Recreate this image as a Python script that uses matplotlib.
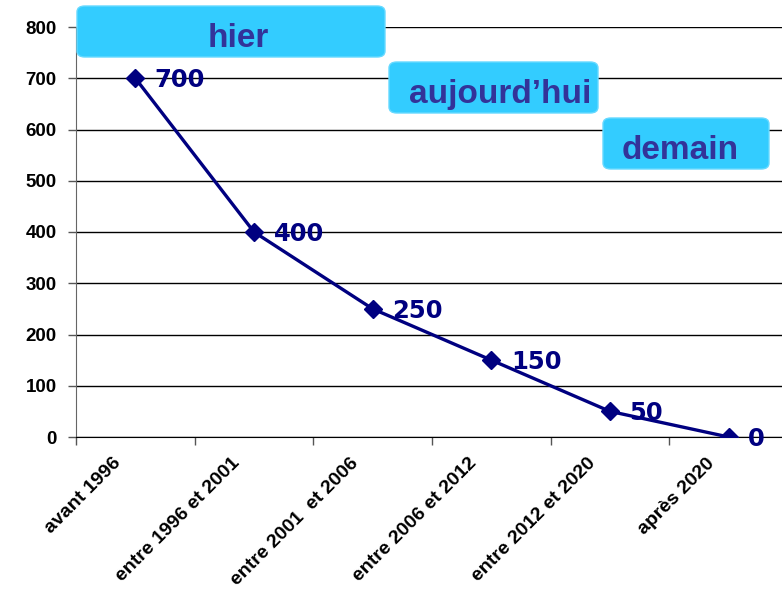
import matplotlib
matplotlib.use("Agg")
import matplotlib.pyplot as plt
from matplotlib.patches import FancyBboxPatch
from matplotlib.transforms import offset_copy

categories = ["avant 1996", "entre 1996 et 2001", "entre 2001  et 2006",
              "entre 2006 et 2012", "entre 2012 et 2020", "après 2020"]
values = [700, 400, 250, 150, 50, 0]
periods = ["hier", "aujourd\u2019hui", "demain"]

W, H = 782, 595
fig = plt.figure(figsize=(W / 100, H / 100), dpi=100)
ax = fig.add_axes([76 / W, (H - 437) / H, (788 - 76) / W, 410 / H])

navy = "#000080"
x = list(range(len(categories)))
ax.plot(x, values, color=navy, lw=2.4, marker="D", markersize=9.5, zorder=3)

for xi, v in zip(x, values):
    ax.annotate(str(v), (xi, v), xytext=(14, -1.5), textcoords="offset points",
                color=navy, fontsize=17.5, fontweight="bold", family="DejaVu Sans",
                va="center", ha="left", zorder=4)

ax.set_xlim(-0.5, 5.5)
ax.set_ylim(0, 800)
ax.set_yticks(range(0, 801, 100))
ax.set_xticks([i - 0.5 for i in range(6)], minor=False)
ax.set_xticks(x, minor=True)
ax.set_xticklabels([])
ax.set_xticklabels(categories, minor=True)
ax.tick_params(axis="x", which="minor", length=0, pad=17)
ax.tick_params(axis="x", which="major", length=6, width=1, color="#555555")
ax.tick_params(axis="y", length=6, width=1, pad=8, color="#555555")

for lab in ax.get_yticklabels():
    lab.set_fontfamily("Liberation Sans")
    lab.set_fontweight("bold")
    lab.set_fontsize(13.5)
for lab in ax.get_xticklabels(minor=True):
    lab.set_fontfamily("Liberation Sans")
    lab.set_fontweight("bold")
    lab.set_fontsize(14)
    lab.set_rotation(45)
    lab.set_rotation_mode("anchor")
    lab.set_ha("right")
    lab.set_va("center")
    lab.set_transform(offset_copy(lab.get_transform(), fig=fig, x=-17, y=0, units="dots"))

ax.grid(axis="y", color="black", lw=1)
ax.set_axisbelow(True)
for s in ["top", "right"]:
    ax.spines[s].set_visible(False)
ax.spines["left"].set_color("#666666")
ax.spines["bottom"].set_color("black")

# boxes: (x0, y0, x1, y1) in pixels, text center x
boxes = [(77, 6, 385, 57, 238), (389, 62, 598, 113, 500), (603, 118, 769, 169, 680)]
for (x0, y0, x1, y1, tx), label in zip(boxes, periods):
    p = FancyBboxPatch((x0 / W, (H - y1) / H), (x1 - x0) / W, (y1 - y0) / H,
                       boxstyle="round,pad=0,rounding_size=0.01",
                       transform=fig.transFigure, facecolor="#33CCFF",
                       edgecolor="#66D9FF", lw=1, zorder=10)
    fig.patches.append(p)
    fig.text(tx / W, (H - (y0 + y1) / 2 - 7) / H, label, ha="center", va="center",
             fontsize=24, fontweight="bold", family="Liberation Sans",
             color="#333399", zorder=11)

fig.savefig("out.png", dpi=100)
